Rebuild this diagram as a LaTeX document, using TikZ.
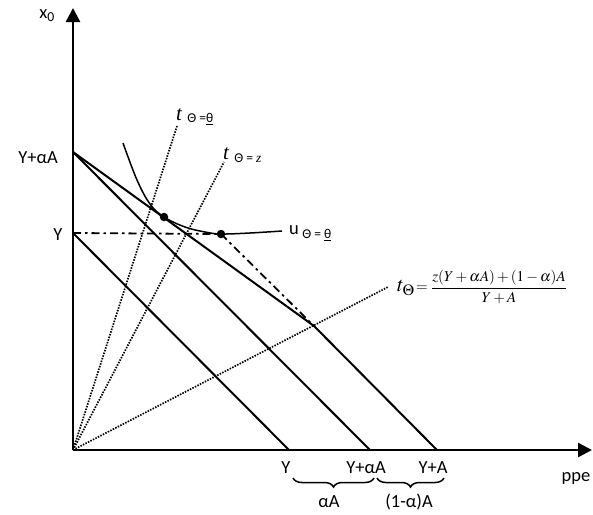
\documentclass[tikz,border=0pt]{standalone}
\usepackage{amsmath}
\usepackage{mathptmx}
\usepackage{fontspec}
\setmainfont{Carlito}
\newfontfamily\lserif{Liberation Serif}
\usetikzlibrary{arrows.meta,decorations.pathreplacing}
\tikzset{
  axisline/.style={line width=2.4pt,-{Triangle[length=14pt,width=14pt]}},
  budget/.style={line width=2pt},
  rayline/.style={line width=1.7pt,dash pattern=on 1.5pt off 1.3pt},
  dashdotline/.style={line width=1.8pt,dash pattern=on 8pt off 4pt on 2.5pt off 4pt},
  ucurve/.style={line width=1.5pt},
  lbl/.style={inner sep=0pt,font=\fontsize{18.5}{22}\selectfont},
  tlbl/.style={inner sep=0pt,font=\fontsize{21}{24}\selectfont\lserif\itshape},
  sub/.style={inner sep=0pt,font=\fontsize{13.5}{15}\selectfont},
  pt/.style={circle,fill=black,inner sep=0pt,minimum size=8.5pt},
  bracestyle/.style={line width=1.5pt,decorate,decoration={brace,mirror,amplitude=9pt}}
}
\begin{document}
\begin{tikzpicture}[x=1pt,y=-1pt]
\useasboundingbox (0,0) rectangle (593,514);
% key points
\coordinate (O) at (73,450);
\coordinate (ytop) at (73,8);
\coordinate (xend) at (592,450);
\coordinate (YaA) at (73,152);
\coordinate (Yv) at (73,233);
\coordinate (Yx) at (289,450);
\coordinate (YaAx) at (370,450);
\coordinate (YAx) at (437,450);
\coordinate (kink) at (314,326);
\coordinate (r1) at (177,126);
\coordinate (r2) at (224,162);
\coordinate (r3) at (388,287);
% axes
\draw[axisline] (O) -- (ytop);
\draw[axisline] (O) -- (xend);
% rays
\draw[rayline] (O) -- (r1);
\draw[rayline] (O) -- (r2);
\draw[rayline] (O) -- (r3);
% budget lines
\draw[budget] (Yv) -- (Yx);
\draw[budget] (YaA) -- (YaAx);
\draw[budget] (YaA) -- (kink) -- (YAx);
% indifference curve
\draw[ucurve] plot[smooth,tension=0.6] coordinates {(123,143) (137,180) (150,204) (164,217) (185,227) (205,232) (221,234) (250,233) (282,231)};
% points
\node[pt] (p1) at (164,217) {};
\node[pt] (p2) at (221,234) {};
% dash-dot
\draw[dashdotline] (Yv) -- (p2.center) -- (kink);
% axis labels
\node[lbl] (x0) at (47,16) {x\textsubscript{0}};
\node[lbl,anchor=east] (lYaA) at (58,158) {Y+αA};
\node[lbl] (lY) at (58,235) {Y};
\node[lbl] (lppe) at (576,478) {ppe};
\node[lbl] (xY) at (286,468) {Y};
\node[lbl] (xYaA) at (366,468) {Y+αA};
\node[lbl] (xYA) at (433,468) {Y+A};
\draw[bracestyle] (293,478) -- (374,478);
\draw[bracestyle] (377,478) -- (444,478);
\node[lbl] (laA) at (329,502) {αA};
\node[lbl] (l1aA) at (409,502) {(1-α)A};
% curve labels
\node[tlbl,anchor=west] (t1) at (176,115) {t};
\node[sub,anchor=west] at ([xshift=5pt,yshift=-4pt]t1.east) {Θ =\underline{θ}};
\node[tlbl,anchor=west] (t2) at (223,154) {t};
\node[sub,anchor=west] at ([xshift=5pt,yshift=-4pt]t2.east) {Θ = {\lserif\itshape z}};
\node[lbl,anchor=west] (u1) at (289,230) {u};
\node[sub,anchor=west] at ([xshift=3pt,yshift=-5pt]u1.east) {Θ = \underline{θ}};
\node[anchor=west,inner sep=0pt] (t3) at (397,287) {\fontsize{21}{24}\selectfont$t_{\fontsize{13}{15}\selectfont\Theta}$\fontsize{15}{18}\selectfont$\,=\dfrac{z(Y+\alpha A)+(1-\alpha)A}{Y+A}$};
\end{tikzpicture}
\end{document}
